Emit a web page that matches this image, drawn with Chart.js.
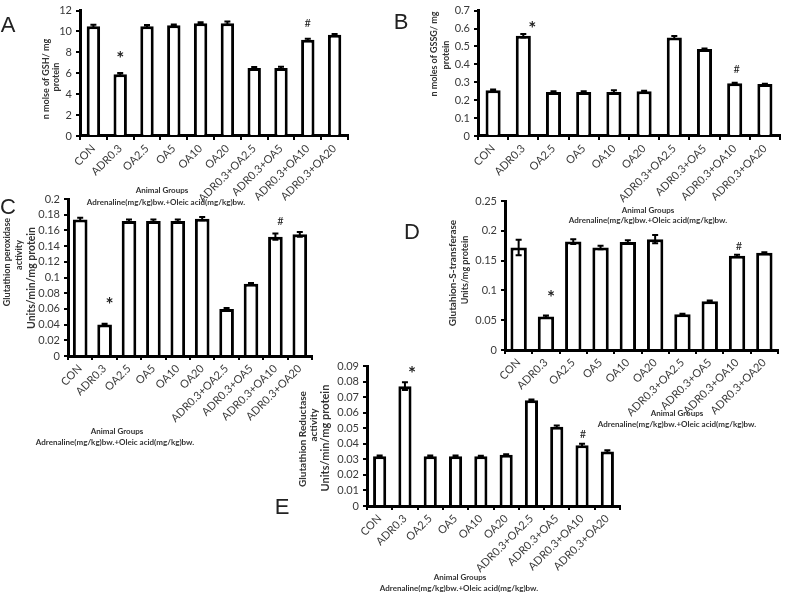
<!DOCTYPE html>
<html>
<head>
<meta charset="utf-8">
<script src="https://cdn.jsdelivr.net/npm/chart.js@4.4.0/dist/chart.umd.min.js"></script>
<style>
body { margin: 0; background: #fff; width: 789px; height: 592px; position: relative; overflow: hidden; font-family: Lato, 'Open Sans', sans-serif; }
canvas { position: absolute; left: 0; top: 0; }
.t { position: absolute; white-space: nowrap; transform: translate(-50%, -50%); font-weight: bold; font-size: 8px; color: #333; line-height: 1; }
.v { transform: translate(-50%, -50%) rotate(-90deg); font-size: 9px; }
.p { position: absolute; font-family: 'Liberation Sans', Arial, sans-serif; font-size: 22px; color: #222; transform: translate(-50%, -50%); line-height: 1; }
</style>
</head>
<body>
<canvas id="chartA" width="789" height="592"></canvas>
<canvas id="chartB" width="789" height="592"></canvas>
<canvas id="chartC" width="789" height="592"></canvas>
<canvas id="chartD" width="789" height="592"></canvas>
<canvas id="chartE" width="789" height="592"></canvas>

<!-- panel letters -->
<div class="p" style="left:8px;top:25px">A</div>
<div class="p" style="left:401px;top:22px">B</div>
<div class="p" style="left:8px;top:207px">C</div>
<div class="p" style="left:412px;top:232px">D</div>
<div class="p" style="left:282px;top:507px">E</div>

<!-- y axis titles -->
<div class="t v" style="left:45px;top:79px">n molse of GSH/ mg</div>
<div class="t v" style="left:55px;top:77px">protein</div>
<div class="t v" style="left:433px;top:54px">n moles of GSSG/ mg</div>
<div class="t v" style="left:445px;top:55px">protein</div>
<div class="t v" style="left:6px;top:262px;font-size:9px">Glutathion peroxidase</div>
<div class="t v" style="left:18px;top:255px;font-size:9px">activity</div>
<div class="t v" style="left:31px;top:278px;font-size:10.5px">Units/min/mg protein</div>
<div class="t v" style="left:452px;top:273px;font-size:10px">Glutahion-S-transferase</div>
<div class="t v" style="left:464px;top:270px">Units/mg protein</div>
<div class="t v" style="left:302px;top:439px;font-size:10px">Glutathion Reductase</div>
<div class="t v" style="left:313px;top:425px;font-size:10px">activity</div>
<div class="t v" style="left:324px;top:438px;font-size:11px">Units/min/mg protein</div>

<!-- x axis titles -->
<div class="t" style="left:162px;top:190px">Animal Groups</div>
<div class="t" style="left:166px;top:202px">Adrenaline(mg/kg)bw.+Oleic acid(mg/kg)bw.</div>
<div class="t" style="left:648px;top:210px">Animal Groups</div>
<div class="t" style="left:648px;top:220px">Adrenaline(mg/kg)bw.+Oleic acid(mg/kg)bw.</div>
<div class="t" style="left:117px;top:431px">Animal Groups</div>
<div class="t" style="left:115px;top:442px">Adrenaline(mg/kg)bw.+Oleic acid(mg/kg)bw.</div>
<div class="t" style="left:677px;top:413px">Animal Groups</div>
<div class="t" style="left:677px;top:424px">Adrenaline(mg/kg)bw.+Oleic acid(mg/kg)bw.</div>
<div class="t" style="left:460px;top:577px">Animal Groups</div>
<div class="t" style="left:459px;top:588px">Adrenaline(mg/kg)bw.+Oleic acid(mg/kg)bw.</div>

<script>
const groups = ['CON', 'ADR0.3', 'OA2.5', 'OA5', 'OA10', 'OA20',
  'ADR0.3+OA2.5', 'ADR0.3+OA5', 'ADR0.3+OA10', 'ADR0.3+OA20'];

// A - GSH
const gshValues = [10.5, 5.9, 10.5, 10.6, 10.8, 10.8, 6.5, 6.5, 9.2, 9.7];
const gshErrors = [0.15, 0.12, 0.12, 0.08, 0.08, 0.15, 0.1, 0.12, 0.1, 0.06];
const gshMarks = ['', '*', '', '', '', '', '', '', '#', ''];

// B - GSSG
const gssgValues = [0.255, 0.56, 0.245, 0.245, 0.245, 0.25, 0.55, 0.485, 0.295, 0.29];
const gssgErrors = [0.005, 0.01, 0.005, 0.005, 0.01, 0.003, 0.008, 0.003, 0.002, 0.002];
const gssgMarks = ['', '*', '', '', '', '', '', '', '#', ''];

// C - glutathion peroxidase
const gpxValues = [0.174, 0.04, 0.172, 0.172, 0.172, 0.175, 0.06, 0.092, 0.152, 0.155];
const gpxErrors = [0.002, 0.001, 0.002, 0.002, 0.002, 0.002, 0.001, 0.001, 0.004, 0.003];
const gpxMarks = ['', '*', '', '', '', '', '', '', '#', ''];

// D - glutathion-S-transferase
const gstValues = [0.172, 0.056, 0.182, 0.172, 0.181, 0.186, 0.06, 0.082, 0.158, 0.163];
const gstErrors = [0.013, 0.002, 0.004, 0.003, 0.003, 0.007, 0.001, 0.001, 0.002, 0.001];
const gstMarks = ['', '*', '', '', '', '', '', '', '#', ''];

// E - glutathion reductase
const grValues = [0.032, 0.077, 0.032, 0.032, 0.032, 0.033, 0.068, 0.051, 0.039, 0.035];
const grErrors = [0.0005, 0.0025, 0.0005, 0.0005, 0.0003, 0.0003, 0.0005, 0.0008, 0.001, 0.0008];
const grMarks = ['', '*', '', '', '', '', '', '', '#', ''];

// error bars and significance marks
const errMarks = {
  id: 'errMarks',
  afterDatasetsDraw(chart, args, opts) {
    const ds = chart.data.datasets[0];
    const meta = chart.getDatasetMeta(0);
    const y = chart.scales.y;
    const ctx = chart.ctx;
    ctx.save();
    meta.data.forEach((bar, i) => {
      const v = ds.data[i], e = ds.errors[i];
      const yt = y.getPixelForValue(v + e);
      const yb = y.getPixelForValue(v - e);
      ctx.strokeStyle = '#000';
      ctx.lineWidth = 2;
      ctx.beginPath();
      ctx.moveTo(bar.x, yt); ctx.lineTo(bar.x, yb);
      ctx.moveTo(bar.x - 3, yt); ctx.lineTo(bar.x + 3, yt);
      ctx.moveTo(bar.x - 3, yb); ctx.lineTo(bar.x + 3, yb);
      ctx.stroke();
      const m = ds.marks[i];
      if (!m) return;
      ctx.fillStyle = '#222';
      ctx.textAlign = 'center';
      ctx.textBaseline = 'middle';
      if (m === '*') {
        ctx.font = 'bold 19px Lato, sans-serif';
        ctx.fillText(m, bar.x + opts.starDx, yt - opts.starDy + 4);
      } else {
        ctx.font = '11px Lato, sans-serif';
        ctx.fillText(m, bar.x + opts.hashDx, yt - opts.hashDy);
      }
    });
    ctx.restore();
  }
};

function makePanel(id, values, errors, marks, g) {
  const ctx = document.getElementById(id).getContext('2d');
  return new Chart(ctx, {
    type: 'bar',
    data: {
      labels: groups,
      datasets: [{
        data: values,
        errors: errors,
        marks: marks,
        backgroundColor: '#fff',
        borderColor: '#000',
        borderWidth: 3,
        barPercentage: g.barPct,
        categoryPercentage: 1
      }]
    },
    options: {
      responsive: false,
      animation: false,
      events: [],
      layout: {
        padding: { left: g.axisX - 34, top: g.top, right: 789 - g.right, bottom: 592 - g.zero - 70 }
      },
      plugins: {
        legend: { display: false },
        tooltip: { enabled: false },
        errMarks: g.marks
      },
      scales: {
        x: {
          grid: { display: true, drawOnChartArea: false, tickLength: 4, lineWidth: 2, color: '#000', offset: true },
          border: { color: '#000', width: 3 },
          ticks: {
            autoSkip: false, minRotation: 45, maxRotation: 45, padding: 2,
            color: '#3a3a3a', font: { family: 'Lato', size: 11 }
          },
          afterFit: s => { s.height = 70; }
        },
        y: {
          min: 0,
          max: g.max,
          grid: { drawOnChartArea: false, tickLength: 4, lineWidth: 2, color: '#000' },
          border: { color: '#000', width: 3 },
          ticks: {
            autoSkip: false, stepSize: g.step, padding: 4, color: '#3a3a3a', font: { family: 'Lato', size: 11 },
            callback: v => String(+v.toFixed(3))
          },
          afterFit: s => { s.width = 34; }
        }
      }
    },
    plugins: [errMarks]
  });
}

makePanel('chartA', gshValues, gshErrors, gshMarks,
  { axisX: 80, top: 5, zero: 136, right: 348, max: 12, step: 2, barPct: 0.5,
    marks: { starDx: 0, starDy: 18, hashDx: 0, hashDy: 15 } });
makePanel('chartB', gssgValues, gssgErrors, gssgMarks,
  { axisX: 478, top: 5, zero: 136, right: 780, max: 0.7, step: 0.1, barPct: 0.5,
    marks: { starDx: 9, starDy: 9, hashDx: 2, hashDy: 13 } });
makePanel('chartC', gpxValues, gpxErrors, gpxMarks,
  { axisX: 68, top: 199, zero: 356, right: 312, max: 0.2, step: 0.02, barPct: 0.6,
    marks: { starDx: 5, starDy: 23, hashDx: 5, hashDy: 12 } });
makePanel('chartD', gstValues, gstErrors, gstMarks,
  { axisX: 505, top: 201, zero: 350, right: 778, max: 0.25, step: 0.05, barPct: 0.6,
    marks: { starDx: 5, starDy: 22, hashDx: 2, hashDy: 8 } });
makePanel('chartE', grValues, grErrors, grMarks,
  { axisX: 367, top: 366, zero: 506, right: 620, max: 0.09, step: 0.01, barPct: 0.52,
    marks: { starDx: 7, starDy: 12, hashDx: 1, hashDy: 9 } });
</script>
</body>
</html>
